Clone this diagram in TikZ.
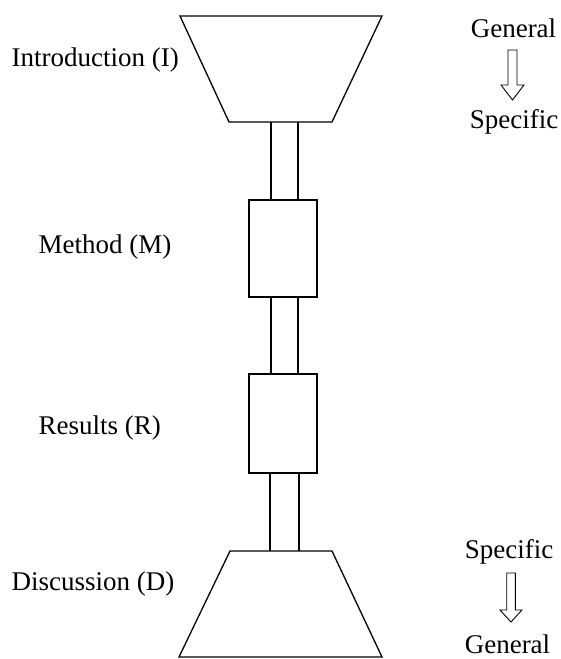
\documentclass[tikz,border=0pt]{standalone}
\usepackage{fontspec}
\setmainfont{Liberation Serif}
\usetikzlibrary{calc}
\begin{document}
\begin{tikzpicture}[x=1pt,y=-1pt,line width=1.3pt,
  lbl/.style={inner sep=0pt,font=\fontsize{27}{32}\selectfont},
  blk/.style={draw,rectangle,inner sep=0pt,minimum width=68pt},
  hollow/.style={draw,line width=0.9pt,line join=miter}]
\useasboundingbox (0,0) rectangle (561,659);
% funnel shapes
\coordinate (It1) at (180,16);  \coordinate (It2) at (382,16);
\coordinate (Ib2) at (332,122); \coordinate (Ib1) at (229,122);
\draw (It1) -- (It2) -- (Ib2) -- (Ib1) -- cycle;
\coordinate (Dt1) at (230,551); \coordinate (Dt2) at (332,551);
\coordinate (Db2) at (382,657); \coordinate (Db1) at (179,657);
\draw (Dt1) -- (Dt2) -- (Db2) -- (Db1) -- cycle;
% boxes
\node[blk,minimum height=97pt] (M) at (283,248.5) {};
\node[blk,minimum height=99pt] (R) at (283,423.5) {};
% stems
\coordinate (s1l) at (271,122); \coordinate (s1r) at (298,122);
\draw (s1l) -- (s1l |- M.north);
\draw (s1r) -- (s1r |- M.north);
\draw (s1l |- M.south) -- (s1l |- R.north);
\draw (s1r |- M.south) -- (s1r |- R.north);
\coordinate (s3l) at (270,551); \coordinate (s3r) at (299,551);
\draw (s3l |- R.south) -- (s3l);
\draw (s3r |- R.south) -- (s3r);
% left labels
\node[lbl,anchor=base west] (lI) at (11,66) {Introduction (I)};
\node[lbl,anchor=base west] (lM) at (38,253) {Method (M)};
\node[lbl,anchor=base west] (lR) at (38,434) {Results (R)};
\node[lbl,anchor=base west] (lD) at (11,590) {Discussion (D)};
% right labels and arrows
\node[lbl,anchor=base] (g1) at (513.5,37) {General};
\node[lbl,anchor=base] (s1) at (514,128) {Specific};
\coordinate (a1) at (512.5,50);
\draw[hollow] ($(a1)+(-4.5,0)$) -- ($(a1)+(-4.5,35)$) -- ($(a1)+(-11.5,35)$) -- ($(a1)+(0,50)$) -- ($(a1)+(11.5,35)$) -- ($(a1)+(4.5,35)$) -- ($(a1)+(4.5,0)$) -- cycle;
\node[lbl,anchor=base] (s2) at (509,558) {Specific};
\node[lbl,anchor=base] (g2) at (507.5,653) {General};
\coordinate (a2) at (511,573);
\draw[hollow] ($(a2)+(-4.3,0)$) -- ($(a2)+(-4.3,37)$) -- ($(a2)+(-11,37)$) -- ($(a2)+(0,49)$) -- ($(a2)+(11,37)$) -- ($(a2)+(4.3,37)$) -- ($(a2)+(4.3,0)$) -- cycle;
\end{tikzpicture}
\end{document}
